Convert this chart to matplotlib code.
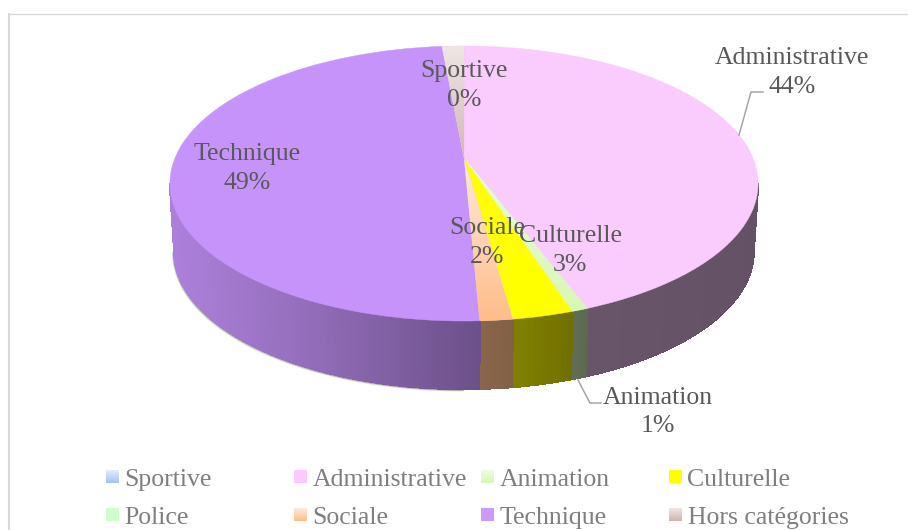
import numpy as np
import matplotlib
matplotlib.use("Agg")
import matplotlib.pyplot as plt
from matplotlib.transforms import Transform
from matplotlib.collections import PolyCollection

# ---- data
categories = ["Sportive", "Administrative", "Animation", "Culturelle",
              "Police", "Sociale", "Technique", "Hors catégories"]
values = [0.0, 44.27, 0.73, 2.8, 0.0, 1.5, 49.26, 1.44]
shown_percent = [0, 44, 1, 3, None, 2, 49, None]
top_colors = ["#BFD3FA", "#FACBFD", "#DFF8C2", "#FFFF00",
              "#CFFDCF", "#FFCDA8", "#C693FB", "#E4D2D0"]

plt.rcParams["font.family"] = ["Liberation Serif", "DejaVu Serif"]
LABEL_COLOR = "#595959"
LEGEND_COLOR = "#7F7F7F"
FONT_SIZE = 18.5

# ---- projection of the unit disc onto the page
CX, APEX_Y, A, B, K = 464.0, 158.0, 289.0, 132.8, 0.1855
DEPTH, SHRINK = 68.0, 0.985


class Perspective(Transform):
    input_dims = output_dims = 2
    has_inverse = False

    def transform_non_affine(self, values):
        v = np.asarray(values, dtype=float)
        d = 1 + K * v[:, 1]
        return np.column_stack((CX + A * v[:, 0] / d, APEX_Y - B * v[:, 1] / d))


persp = Perspective()


def rim(theta_deg):
    t = np.radians(theta_deg)
    return persp.transform_non_affine(np.column_stack((np.sin(t), np.cos(t))))


def gradient(c0, c1, n=64):
    c0, c1 = np.array(matplotlib.colors.to_rgb(c0)), np.array(matplotlib.colors.to_rgb(c1))
    f = np.linspace(0, 1, n)[:, None, None]
    return c0[None, None, :] * (1 - f) + c1[None, None, :] * f


fig = plt.figure(figsize=(9.08, 5.30), dpi=100, facecolor="white")
ax = fig.add_axes([0, 0, 1, 1])

# ---- side wall
edges = np.concatenate(([0.0], np.cumsum(values))) * 3.6
vis_lo, vis_hi = np.degrees(np.arccos(-K)), 360 - np.degrees(np.arccos(-K))

# soft shadow under the wall (mostly on the left, lit from the right)
th = np.linspace(180, vis_hi, 300)
r = rim(th)
bx = CX + (r[:, 0] - CX) * SHRINK
by = r[:, 1] + DEPTH
for off, alpha in ((3.0, 0.14), (2.0, 0.28), (1.0, 0.5)):
    ax.plot(bx - off * 0.5, by + off * 0.6, color="#6b6b60", alpha=alpha, lw=1.2, zorder=1)

shade_x = [172, 300, 464, 590, 758]
shade_f = [0.87, 0.75, 0.56, 0.42, 0.40]
for i, val in enumerate(values):
    lo, hi = max(edges[i], vis_lo), min(edges[i + 1], vis_hi)
    if val <= 0 or hi <= lo:
        continue
    ths = np.arange(lo, hi + 0.5, 0.5)
    ths[-1] = hi
    p = rim(ths)
    q = np.column_stack((CX + (p[:, 0] - CX) * SHRINK, p[:, 1] + DEPTH))
    polys, cols = [], []
    base = np.array(matplotlib.colors.to_rgb(top_colors[i]))
    if categories[i] == "Sociale":
        base = np.array(matplotlib.colors.to_rgb("#FFBD8A"))
    for j in range(len(ths) - 1):
        polys.append([p[j], p[j + 1], q[j + 1], q[j]])
        cols.append(base * np.interp(0.5 * (p[j, 0] + p[j + 1, 0]), shade_x, shade_f))
    ax.add_collection(PolyCollection(polys, facecolors=cols, edgecolors=cols, linewidths=0.8,
                                     antialiaseds=False, zorder=2))

# ---- top face: a real pie, seen through the perspective transform
wedges, _ = ax.pie(values, colors=top_colors, startangle=90, counterclock=False, radius=1.0,
                   wedgeprops={"linewidth": 0.3})
for i, w in enumerate(wedges):
    w.set_transform(persp + ax.transData)
    w.set_edgecolor(top_colors[i])
    w.set_zorder(3)
    w.set_clip_on(False)

wedge_gradients = {"Sociale": ("#FDE9DC", "#FFBD8A", 158, 321),
                   "Hors catégories": ("#EEE6E4", "#D5B6B2", 46, 160),
                   "Animation": ("#EAFADC", "#DAF7B8", 158, 312)}
for name, (c0, c1, y0, y1) in wedge_gradients.items():
    w = wedges[categories.index(name)]
    im = ax.imshow(gradient(c0, c1), extent=(400, 620, y1, y0), origin="upper",
                   aspect="auto", zorder=4)
    im.set_clip_path(w)

ax.set_aspect("auto")
ax.set_xlim(0, 908)
ax.set_ylim(530, 0)
ax.axis("off")

# ---- chart frame
ax.plot([9, 9], [530, 13], color="#D9D9D9", lw=1.5, zorder=0, solid_capstyle="butt")
ax.plot([8, 908], [13.5, 13.5], color="#D9D9D9", lw=1.0, zorder=0, solid_capstyle="butt")

# ---- leader lines
ax.plot([739, 751, 763], [135, 92, 92], color="#A6A6A6", lw=1.1, zorder=5)
ax.plot([578, 590, 601], [380, 403, 403], color="#A6A6A6", lw=1.1, zorder=5)

# ---- data labels
label_pos = {"Sportive": (464, 85.5), "Administrative": (792, 72.5), "Animation": (658, 412),
             "Culturelle": (570, 250.5), "Sociale": (487, 242.5), "Technique": (247, 168.5)}
for name, (x, y) in label_pos.items():
    pct = shown_percent[categories.index(name)]
    ax.text(x, y, f"{name}\n{pct}%", ha="center", va="center", color=LABEL_COLOR,
            fontsize=FONT_SIZE, linespacing=1.41, zorder=6)

# ---- legend
legend_x = [106, 294, 481, 669]
legend_y = [477, 515]
legend_grad = {"Sportive": ("#E3ECFB", "#A4C2F8"), "Administrative": ("#FACBFD", "#FACBFD"),
               "Animation": ("#EFFBE3", "#D9F8B5"), "Culturelle": ("#FFFF00", "#FFFF00"),
               "Police": ("#CFFDCF", "#CFFDCF"), "Sociale": ("#FDEADF", "#FFBD8A"),
               "Technique": ("#CC99FC", "#CC99FC"), "Hors catégories": ("#EFE6E4", "#D5B2AE")}
for i, name in enumerate(categories):
    x, y = legend_x[i % 4], legend_y[i // 4]
    c0, c1 = legend_grad[name]
    ax.imshow(gradient(c0, c1), extent=(x, x + 13, y + 6.5, y - 6.5), origin="upper",
              aspect="auto", zorder=5)
    ax.text(x + 18.5, y + 0.5, name, ha="left", va="center_baseline", color=LEGEND_COLOR,
            fontsize=FONT_SIZE, zorder=6)

ax.set_xlim(0, 908)
ax.set_ylim(530, 0)
fig.savefig("out.png", dpi=100, facecolor="white")
